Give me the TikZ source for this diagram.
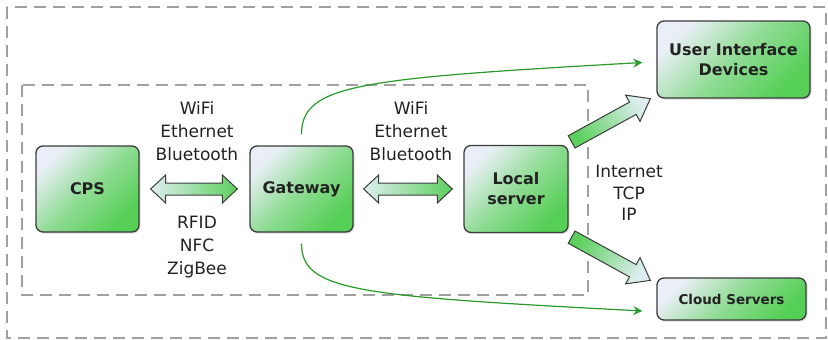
\documentclass[tikz,border=0pt]{standalone}
\usepackage{fontspec}
\setmainfont{DejaVu Sans}
\usetikzlibrary{arrows.meta,calc,shadows}

\definecolor{boxline}{HTML}{3C3C3C}
\definecolor{boxlight}{HTML}{EAEFF7}
\definecolor{boxgreen}{HTML}{55CF55}
\definecolor{arrowlight}{HTML}{DEEEF0}
\definecolor{arrowgreen}{HTML}{5CCF5C}
\definecolor{curvegreen}{HTML}{2A9A2A}
\definecolor{dashgray}{HTML}{A0A0A0}
\definecolor{textdark}{HTML}{222222}

\tikzset{
  box/.style={draw=boxline, line width=1.3pt, rounded corners=7pt, inner sep=0pt, align=center,
    bottom color=boxlight, top color=boxgreen, middle color=boxgreen!60!boxlight, shading angle=-135,
    font=\fontsize{16}{20}\selectfont\bfseries, text=textdark,
    drop shadow={shadow xshift=1.5pt, shadow yshift=-1.5pt, opacity=.25}},
  proto/.style={align=center, font=\fontsize{17}{23}\selectfont, text=textdark},
  region/.style={draw=dashgray, line width=1.8pt, dash pattern=on 12pt off 7pt},
  link/.style={draw=curvegreen, line width=1.2pt, -{Stealth[length=9pt,width=9pt,inset=3pt]}},
  arrowbody/.style={draw=boxline, line width=1pt, line join=miter}
}

% two-headed fat arrow between two points on one level
\newcommand{\dblarrow}[2]{%
  \shade[arrowbody, left color=arrowlight, right color=arrowgreen]
    (#1) -- ($(#1)+(15,-14)$) -- ($(#1)+(15,-6)$) -- ($(#2)+(-15,-6)$)
    -- ($(#2)+(-15,-14)$) -- (#2) -- ($(#2)+(-15,14)$) -- ($(#2)+(-15,6)$)
    -- ($(#1)+(15,6)$) -- ($(#1)+(15,14)$) -- cycle;}

% one-headed fat arrow from #1 to #2, shading turned by #3
\newcommand{\fatarrow}[3]{%
  \coordinate (#1n) at ($(#2)!20pt!(#1)$);
  \shade[arrowbody, bottom color=arrowgreen, top color=arrowlight, shading angle=#3]
    ($(#1)!7pt!90:(#2)$) -- ($(#1n)!7pt!90:(#2)$) -- ($(#1n)!15pt!90:(#2)$) -- (#2)
    -- ($(#1n)!15pt!-90:(#2)$) -- ($(#1n)!7pt!-90:(#2)$) -- ($(#1)!7pt!-90:(#2)$) -- cycle;}

\begin{document}
\begin{tikzpicture}[x=1pt,y=-1pt]
  \useasboundingbox (0,0) rectangle (828,340);

  % dashed regions
  \draw[region] (7,7) rectangle (826,338);
  \draw[region] (22,85) rectangle (588,295);

  % devices
  \node[box, minimum width=103pt, minimum height=86pt] (cps) at (87.5,189) {CPS};
  \node[box, minimum width=103pt, minimum height=86pt] (gw) at (301.5,189) {Gateway};
  \node[box, minimum width=104pt, minimum height=87pt] (ls) at (516,189) {Local\\server};
  \node[box, minimum width=153pt, minimum height=77pt] (ui) at (733.5,59.5) {User Interface\\Devices};
  \node[box, minimum width=149pt, minimum height=42pt, font=\fontsize{13.5}{16}\selectfont\bfseries] (cloud) at (731.5,299) {Cloud Servers};

  % protocols
  \node[proto] (wifi1) at (197,131) {WiFi\\Ethernet\\Bluetooth};
  \node[proto] (wifi2) at (411,131) {WiFi\\Ethernet\\Bluetooth};
  \node[proto] (rfid) at (197,247) {RFID\\NFC\\ZigBee};
  \node[proto, font=\fontsize{17}{21.5}\selectfont] (inet) at (629,193) {Internet\\TCP\\IP};

  % links
  \coordinate (c1) at ($(cps.east)+(11,0)$);
  \coordinate (c2) at ($(gw.west)+(-12,0)$);
  \coordinate (g3) at ($(gw.east)+(10,0)$);
  \coordinate (g4) at ($(ls.west)+(-11,0)$);
  \dblarrow{c1}{c2}
  \dblarrow{g3}{g4}

  \coordinate (s1) at ($(ls.north east)+(3,-3)$);
  \coordinate (u1) at ($(ui.south west)+(-6,0)$);
  \coordinate (s2) at ($(ls.south east)+(3,4)$);
  \coordinate (k1) at ($(cloud.north west)+(-6,3)$);
  \fatarrow{s1}{u1}{-61}
  \fatarrow{s2}{k1}{-119}

  \coordinate (g1) at ($(gw.north)+(0,-11)$);
  \coordinate (g2) at ($(gw.south)+(0,11)$);
  \coordinate (u0) at ($(ui.west)+(-14,3)$);
  \coordinate (k0) at ($(cloud.west)+(-14,12)$);
  \draw[link] (g1) .. controls +(0,-50) and +(-283,16) .. (u0);
  \draw[link] (g2) .. controls +(0,48) and +(-283,-15) .. (k0);
\end{tikzpicture}
\end{document}
